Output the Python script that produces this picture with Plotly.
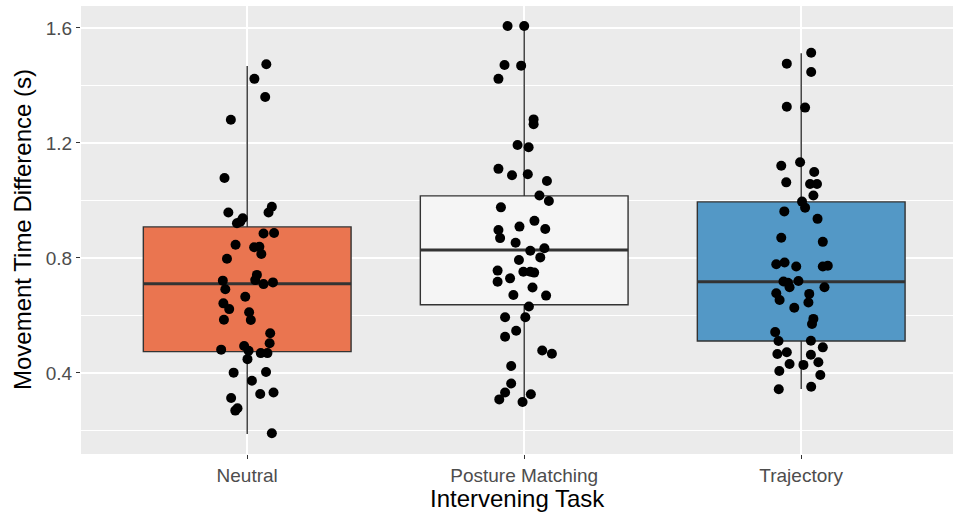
import plotly.graph_objects as go

categories = ["Neutral", "Posture Matching", "Trajectory"]
box_colors = ["#EA7550", "#F5F5F5", "#5398C6"]

# box statistics
q1 = [0.474, 0.637, 0.511]
median = [0.710, 0.828, 0.717]
q3 = [0.908, 1.016, 0.995]
lower_fence = [0.188, 0.297, 0.344]
upper_fence = [1.468, 1.607, 1.512]

# individual points: values and horizontal jitter (category units)
neutral_y = [1.474, 1.423, 1.36, 1.281, 1.078, 0.958, 0.978, 0.958, 0.921, 0.938, 0.926, 0.885, 0.887,
             0.846, 0.837, 0.839, 0.814, 0.797, 0.741, 0.723, 0.721, 0.691, 0.709, 0.715, 0.665, 0.642,
             0.622, 0.611, 0.584, 0.585, 0.538, 0.503, 0.481, 0.494, 0.477, 0.448, 0.469, 0.469, 0.401,
             0.403, 0.373, 0.313, 0.327, 0.332, 0.269, 0.277, 0.19]
neutral_j = [0.069, 0.026, 0.065, -0.059, -0.082, -0.068, 0.089, 0.077, -0.037, -0.016, -0.025, 0.059, 0.097,
             -0.042, 0.025, 0.044, 0.051, -0.073, 0.035, 0.029, -0.088, -0.079, 0.059, 0.093, -0.007, -0.086,
             -0.065, 0.007, 0.013, -0.084, 0.083, 0.081, -0.094, -0.011, 0.005, 0.001, 0.049, 0.073, -0.049,
             0.068, 0.017, -0.058, 0.047, 0.095, -0.043, -0.035, 0.089]

posture_y = [1.607, 1.607, 1.471, 1.469, 1.423, 1.282, 1.265, 1.193, 1.185, 1.11, 1.088, 1.091, 1.068,
             1.017, 0.998, 0.976, 0.929, 0.909, 0.901, 0.897, 0.869, 0.853, 0.825, 0.834, 0.793, 0.802,
             0.756, 0.752, 0.752, 0.749, 0.717, 0.729, 0.697, 0.671, 0.669, 0.631, 0.594, 0.594, 0.547,
             0.526, 0.478, 0.467, 0.424, 0.363, 0.332, 0.308, 0.326, 0.299]
posture_j = [-0.060, 0.000, -0.071, -0.011, -0.093, 0.034, 0.034, -0.024, 0.016, -0.093, -0.044, 0.013, 0.082,
             0.055, 0.089, -0.084, 0.037, -0.017, 0.076, -0.093, -0.087, -0.031, 0.022, 0.073, -0.019, 0.058,
             -0.096, -0.003, 0.022, 0.036, -0.096, -0.051, 0.030, -0.039, 0.079, 0.017, -0.069, 0.004, -0.029,
             -0.069, 0.065, 0.100, -0.047, -0.047, -0.069, -0.090, 0.024, -0.006]

trajectory_y = [1.514, 1.476, 1.447, 1.326, 1.323, 1.121, 1.133, 1.099, 1.063, 1.057, 1.057, 1.017, 0.996,
                0.975, 0.962, 0.936, 0.87, 0.856, 0.778, 0.784, 0.77, 0.77, 0.773, 0.718, 0.714, 0.698,
                0.72, 0.698, 0.677, 0.654, 0.675, 0.645, 0.627, 0.588, 0.570, 0.542, 0.511, 0.512, 0.489,
                0.466, 0.472, 0.463, 0.431, 0.428, 0.437, 0.407, 0.393, 0.343, 0.352]
trajectory_j = [0.036, -0.052, 0.036, -0.052, 0.014, -0.072, -0.004, 0.047, -0.054, 0.032, 0.057, 0.044, 0.003,
                0.014, -0.061, 0.059, -0.072, 0.078, -0.090, -0.060, -0.018, 0.078, 0.096, -0.064, -0.048, -0.042,
                -0.010, 0.084, -0.090, -0.078, 0.029, 0.026, -0.025, 0.044, 0.039, -0.094, -0.082, 0.035, 0.078,
                -0.086, -0.052, 0.035, -0.042, 0.008, 0.062, -0.079, 0.069, -0.081, 0.036]

y_ticks = [0.4, 0.8, 1.2, 1.6]
y_minor = [0.2, 0.6, 1.0, 1.4]

x_title = "Intervening Task"
y_title = "Movement Time Difference (s)"

points_y = [neutral_y, posture_y, trajectory_y]
points_j = [neutral_j, posture_j, trajectory_j]

BOX_W = 0.75
fig = go.Figure()
for i, cat in enumerate(categories):
    xc = i + 1
    fig.add_trace(go.Box(
        x=[xc], q1=[q1[i]], median=[median[i]], q3=[q3[i]],
        lowerfence=[lower_fence[i]], upperfence=[upper_fence[i]],
        width=BOX_W, whiskerwidth=0, fillcolor=box_colors[i],
        line=dict(color="#333333", width=1.4), boxpoints=False,
        hoverinfo="skip", showlegend=False, name=cat,
    ))
    fig.add_trace(go.Scatter(
        x=[xc - BOX_W / 2, xc + BOX_W / 2], y=[median[i], median[i]],
        mode="lines", line=dict(color="#333333", width=3), showlegend=False, hoverinfo="skip",
    ))
for i, cat in enumerate(categories):
    xc = i + 1
    fig.add_trace(go.Scatter(
        x=[xc + j for j in points_j[i]], y=points_y[i], mode="markers",
        marker=dict(color="black", size=10), showlegend=False, name=cat,
    ))

font_family = "Liberation Sans, Arial, Helvetica, sans-serif"
fig.update_layout(
    width=953, height=514,
    margin=dict(l=81, r=0, t=6, b=60, autoexpand=False),
    paper_bgcolor="white", plot_bgcolor="#EBEBEB",
    boxmode="overlay",
    font=dict(family=font_family, color="#4D4D4D", size=19),
    showlegend=False,
    annotations=[
        dict(text=x_title, xref="paper", yref="paper", x=0.5, y=0, yshift=-44,
             xanchor="center", yanchor="middle", showarrow=False,
             font=dict(size=24, color="black")),
        dict(text=y_title, xref="paper", yref="paper", x=0, y=0.5, xshift=-59,
             xanchor="center", yanchor="middle", textangle=-90, showarrow=False,
             font=dict(size=24, color="black")),
    ],
)
fig.update_xaxes(
    range=[0.4, 3.548], tickvals=[1, 2, 3], ticktext=categories,
    showgrid=True, gridcolor="white", gridwidth=1.6, zeroline=False,
    ticks="outside", ticklen=4, tickcolor="#333333", tickwidth=1,
    tickfont=dict(size=19, color="#4D4D4D"), automargin=False,
    showline=False,
)
fig.update_yaxes(
    range=[0.118, 1.6765], tickvals=y_ticks, ticktext=[f"{v:.1f}" for v in y_ticks],
    showgrid=True, gridcolor="white", gridwidth=1.6, zeroline=False,
    ticks="outside", ticklen=4, tickcolor="#333333", tickwidth=1,
    tickfont=dict(size=19, color="#4D4D4D"), automargin=False,
    minor=dict(tickvals=y_minor, showgrid=True, gridcolor="white", gridwidth=0.8, ticks=""),
    showline=False,
)

fig.write_html("out.html", config={"displayModeBar": False},
               post_script="document.body.style.margin='0';")
